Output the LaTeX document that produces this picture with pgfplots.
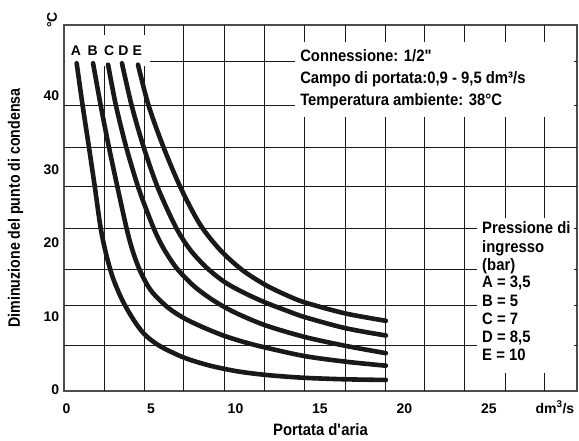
\documentclass[border=0pt]{standalone}
\usepackage{fontspec}
\setmainfont{Liberation Sans}
\newfontfamily\condfont{Liberation Sans}[FakeStretch=0.9]
\newfontfamily\narrowfont{Liberation Sans}[FakeStretch=0.86]
\usepackage{pgfplots}
\pgfplotsset{compat=1.18}

\newcommand{\tickfont}{\bfseries\fontsize{14bp}{16bp}\selectfont}
\newcommand{\cfont}{\condfont\bfseries\fontsize{16.5bp}{20bp}\selectfont}

\begin{document}
\begin{tikzpicture}
\begin{axis}[
  name=ax,
  scale only axis,
  width=513bp, height=366bp,
  xmin=-0.15, xmax=30.21,
  ymin=-0.14, ymax=49.6,
  clip=false,
  axis line style={black!70, line width=1.3bp},
  major tick length=0pt,
  xtick={0,5,10,15,20,25,28.9},
  xticklabels={0,5,10,15,20,25,dm\textsuperscript{3}/s},
  ytick={0,10,20,30,40},
  yticklabels={0,10,20,30,40},
  tick label style={font=\tickfont},
  xticklabel style={anchor=base, yshift=-22bp},
  yticklabel style={xshift=-1.2bp},
  extra x ticks={2.22,4.59,6.95,9.32,11.69,14.11,16.48,18.85,21.21,23.58,25.95,28.31},
  extra x tick labels={},
  extra y ticks={6.0,11.5,16.4,22.0,27.6,33.0,38.7,44.7},
  extra y tick labels={},
  extra tick style={grid=major},
  major grid style={black!90, line width=1bp},
  xlabel={Portata d\textquotesingle aria},
  ylabel={Diminuzione del punto di condensa},
  xlabel style={font=\cfont, at={(axis description cs:0.5,-0.106)}, anchor=center},
  ylabel style={font=\narrowfont\bfseries\fontsize{16.5bp}{20bp}\selectfont,
    at={(axis description cs:-0.0945,0.5)}, anchor=center},
  curve/.style={black!90, line width=4.6bp, smooth, tension=0.5, line cap=round},
]
% white panels over the grid
\fill[white] (axis cs:-0.09,44.0) rectangle (axis cs:4.94,48.2);
\fill[white] (axis cs:13.52,37.1) rectangle (axis cs:30.05,47.3);
\fill[white] (axis cs:24.29,2.3) rectangle (axis cs:30.05,23.4);

% A = 3,5 bar
\addplot[curve] coordinates {
  (0.60,44.4) (0.95,38.7) (1.32,33.1) (1.68,27.5) (2.02,22.0) (2.35,18.4)
  (2.75,15.2) (3.3,12.2) (3.95,9.6) (4.6,7.6) (5.5,6.0) (6.95,4.4)
  (8.5,3.3) (10.2,2.5) (12.0,2.0) (14.1,1.65) (16.5,1.45) (18.9,1.36)};
% B = 5 bar
\addplot[curve] coordinates {
  (1.57,44.4) (2.02,38.7) (2.50,33.1) (3.02,27.5) (3.55,22.0) (3.9,19.0)
  (4.35,16.2) (5.0,13.5) (6.0,11.2) (7.0,9.7) (8.2,8.4) (9.4,7.3)
  (10.6,6.45) (11.8,5.75) (14.1,4.6) (16.5,3.85) (18.9,3.3)};
% C = 7 bar
\addplot[curve] coordinates {
  (2.46,44.2) (2.92,38.7) (3.52,33.1) (4.25,27.5) (5.1,22.3) (5.7,19.4)
  (6.5,16.6) (7.5,14.2) (8.6,12.3) (9.9,10.6) (11.75,8.8) (14.1,7.2)
  (16.5,6.0) (18.9,5.0)};
% D = 8,5 bar
\addplot[curve] coordinates {
  (3.28,44.4) (3.85,38.7) (4.55,33.1) (5.4,27.5) (6.45,22.2) (7.3,19.1)
  (8.3,16.6) (9.4,14.6) (10.6,13.1) (11.75,11.9) (13.0,10.8) (14.1,9.9)
  (16.5,8.4) (18.9,7.4)};
% E = 10 bar
\addplot[curve] coordinates {
  (4.23,44.2) (4.85,38.7) (5.72,33.1) (6.75,27.5) (7.9,22.5) (9.1,19.0)
  (10.4,16.3) (11.75,14.3) (13.0,12.9) (14.1,11.9) (16.5,10.4) (18.9,9.4)};

% curve letters
\foreach \xx/\lab in {0.56/A,1.55/B,2.53/C,3.36/D,4.19/E}{
  \edef\tmp{\noexpand\node[anchor=base, inner sep=0pt, font=\noexpand\tickfont]
    at (axis cs:\xx,45.5) {\lab};}\tmp
}

% conditions
\node[anchor=base west, inner sep=0pt, font=\cfont] at (axis cs:13.82,44.7) {Connessione: 1/2"};
\node[anchor=base west, inner sep=0pt, font=\cfont] at (axis cs:13.82,41.65) {Campo di portata:0,9 - 9,5 dm³/s};
\node[anchor=base west, inner sep=0pt, font=\cfont] at (axis cs:13.82,38.7) {Temperatura ambiente: 38°C};

% legend text
\node[anchor=base west, inner sep=0pt, font=\cfont] at (axis cs:24.59,21.2) {Pressione di};
\node[anchor=base west, inner sep=0pt, font=\cfont] at (axis cs:24.59,18.75) {ingresso};
\node[anchor=base west, inner sep=0pt, font=\cfont] at (axis cs:24.59,16.3) {(bar)};
\node[anchor=base west, inner sep=0pt, font=\cfont] at (axis cs:24.59,13.86) {A = 3,5};
\node[anchor=base west, inner sep=0pt, font=\cfont] at (axis cs:24.59,11.41) {B = 5};
\node[anchor=base west, inner sep=0pt, font=\cfont] at (axis cs:24.59,8.83) {C = 7};
\node[anchor=base west, inner sep=0pt, font=\cfont] at (axis cs:24.59,6.39) {D = 8,5};
\node[anchor=base west, inner sep=0pt, font=\cfont] at (axis cs:24.59,3.94) {E = 10};

% unit of the y axis
\node[rotate=90, anchor=center, inner sep=0pt, font=\tickfont] at (axis cs:-0.85,50.3) {°C};
\end{axis}
\pgfresetboundingbox
\path[use as bounding box] ([xshift=-64bp,yshift=-50bp]ax.south west)
  rectangle ([xshift=2bp,yshift=25bp]ax.north east);
\end{tikzpicture}
\end{document}
